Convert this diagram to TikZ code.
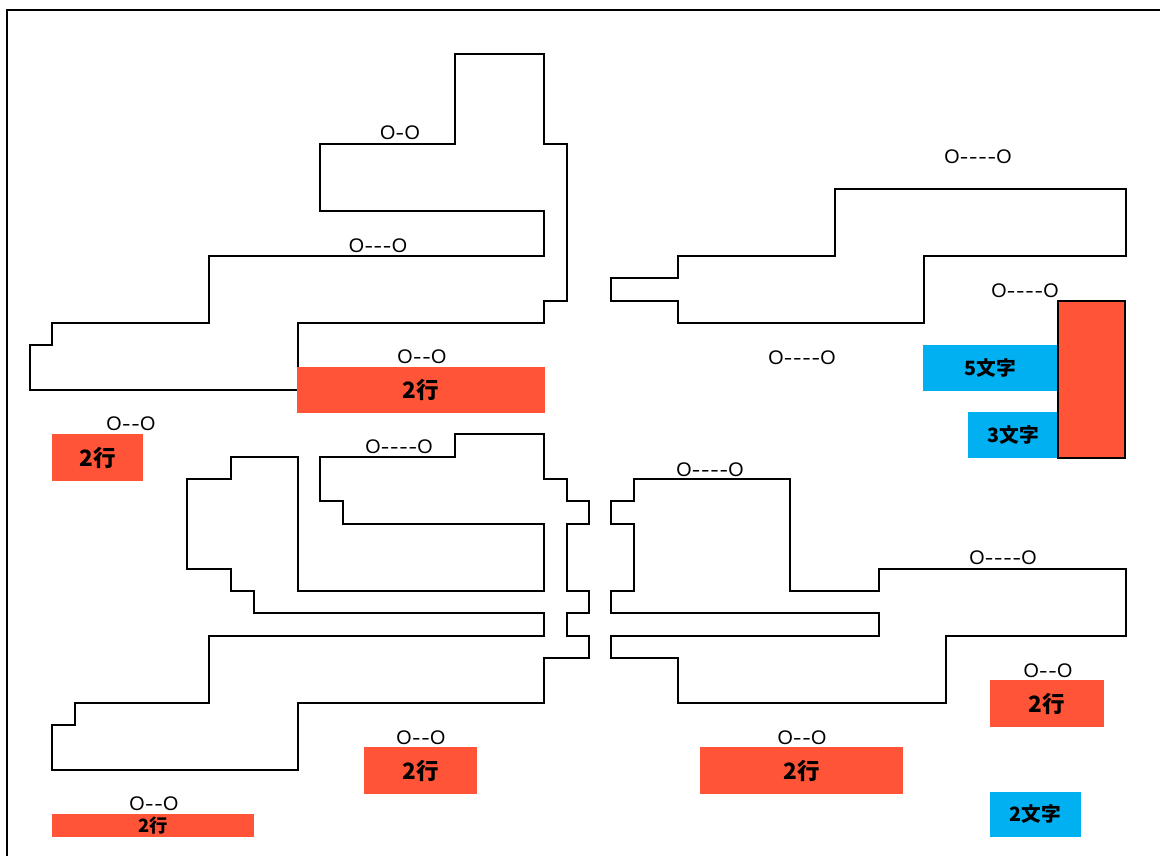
\documentclass[tikz,border=0pt]{standalone}
\usepackage{fontspec}
\newfontfamily\cjk{Noto Sans CJK JP}
\newfontfamily\lbl{Liberation Sans}
\definecolor{rouge}{RGB}{255,84,56}
\definecolor{ciel}{RGB}{0,176,240}
\newcommand{\dsh}{\makebox[2.3mm]{\scalebox{1.3}[1]{-}}}

\begin{document}
\begin{tikzpicture}[
		x=0.25mm, y=-0.25mm,
		wall/.style={draw=black, line width=1.4pt},
		redbox/.style={fill=rouge, inner sep=0pt, text=black,
			font=\cjk\bfseries\fontsize{16}{16}\selectfont},
		bluebox/.style={fill=ciel, inner sep=0pt, text=black,
			font=\cjk\bfseries\fontsize{14}{14}\selectfont},
		tag/.style={inner sep=0pt, font=\lbl\fontsize{14}{14}\selectfont}
		]
		\useasboundingbox (0,0) rectangle (1160,856);
		\begin{scope}
			\clip (0,0) rectangle (1160,856);
			\draw[wall] (7,10) rectangle (1200,900);
		\end{scope}
		
		% upper left block
		\draw[wall] (455,54) -- (544,54) -- (544,144) -- (567,144) -- (567,301)
			-- (544,301) -- (544,323) -- (298,323) -- (298,390) -- (30,390)
			-- (30,345) -- (52,345) -- (52,323) -- (209,323) -- (209,256)
			-- (544,256) -- (544,211) -- (320,211) -- (320,144) -- (455,144) -- cycle;
		% upper right block
		\draw[wall] (611,278) -- (678,278) -- (678,256) -- (835,256) -- (835,189)
			-- (1126,189) -- (1126,256) -- (924,256) -- (924,323) -- (678,323)
			-- (678,301) -- (611,301) -- cycle;
		% lower left block
		\draw[wall] (455,434) -- (544,434) -- (544,479) -- (567,479) -- (567,501)
			-- (589,501) -- (589,524) -- (567,524) -- (567,591) -- (589,591)
			-- (589,613) -- (567,613) -- (567,636) -- (589,636) -- (589,658)
			-- (544,658) -- (544,703) -- (298,703) -- (298,770) -- (52,770)
			-- (52,725) -- (75,725) -- (75,703) -- (209,703) -- (209,636)
			-- (544,636) -- (544,613) -- (254,613) -- (254,591) -- (231,591)
			-- (231,569) -- (187,569) -- (187,479) -- (231,479) -- (231,457)
			-- (298,457) -- (298,591) -- (544,591) -- (544,524) -- (343,524)
			-- (343,501) -- (320,501) -- (320,457) -- (455,457) -- cycle;
		% lower right block
		\draw[wall] (634,479) -- (790,479) -- (790,591) -- (879,591) -- (879,569)
			-- (1126,569) -- (1126,636) -- (946,636) -- (946,703) -- (678,703)
			-- (678,658) -- (611,658) -- (611,636) -- (879,636) -- (879,613)
			-- (611,613) -- (611,591) -- (634,591) -- (634,524) -- (611,524)
			-- (611,501) -- (634,501) -- cycle;
		
		\node[redbox, minimum width=62mm, minimum height=11.5mm] (r1) at (421,390) {2行};
		\node[redbox, minimum width=22.75mm, minimum height=11.75mm] (r2) at (97.5,457.5) {2行};
		\node[redbox, minimum width=28.25mm, minimum height=11.75mm] (r3) at (420.5,770.5) {2行};
		\node[redbox, minimum width=50.5mm, minimum height=5.75mm,
			font=\cjk\bfseries\fontsize{13}{13}\selectfont] (r4) at (153,825.5) {2行};
		\node[redbox, minimum width=28.5mm, minimum height=11.75mm] (r5) at (1047,703.5) {2行};
		\node[redbox, minimum width=50.75mm, minimum height=11.75mm] (r6) at (801.5,770.5) {2行};
		
		\node[bluebox, minimum width=33.75mm, minimum height=11.5mm] (b1) at (990.5,368) {5文字};
		\node[bluebox, minimum width=22.5mm, minimum height=11.5mm] (b2) at (1013,435) {3文字};
		\node[bluebox, minimum width=22.75mm, minimum height=11.25mm] (b3) at (1035.5,814.5) {2文字};
		\node[redbox, draw=black, line width=1.4pt, minimum width=16.75mm,
			minimum height=39.25mm] (pillar) at (1091.5,379.5) {};
		
		\node[tag] (t1) at (400,133) {O\dsh O};
		\node[tag] (t2) at (378,246) {O\dsh\dsh\dsh O};
		\node[tag] (t3) at (422,357) {O\dsh\dsh O};
		\node[tag] (t4) at (131,424) {O\dsh\dsh O};
		\node[tag] (t5) at (399,447) {O\dsh\dsh\dsh\dsh O};
		\node[tag] (t6) at (421,738) {O\dsh\dsh O};
		\node[tag] (t7) at (154,804) {O\dsh\dsh O};
		\node[tag] (t8) at (978,157) {O\dsh\dsh\dsh\dsh O};
		\node[tag] (t9) at (1025,291) {O\dsh\dsh\dsh\dsh O};
		\node[tag] (t10) at (802,358) {O\dsh\dsh\dsh\dsh O};
		\node[tag] (t11) at (710,470) {O\dsh\dsh\dsh\dsh O};
		\node[tag] (t12) at (1003,558) {O\dsh\dsh\dsh\dsh O};
		\node[tag] (t13) at (1048,671) {O\dsh\dsh O};
		\node[tag] (t14) at (802,738) {O\dsh\dsh O};
	\end{tikzpicture}
\end{document}
